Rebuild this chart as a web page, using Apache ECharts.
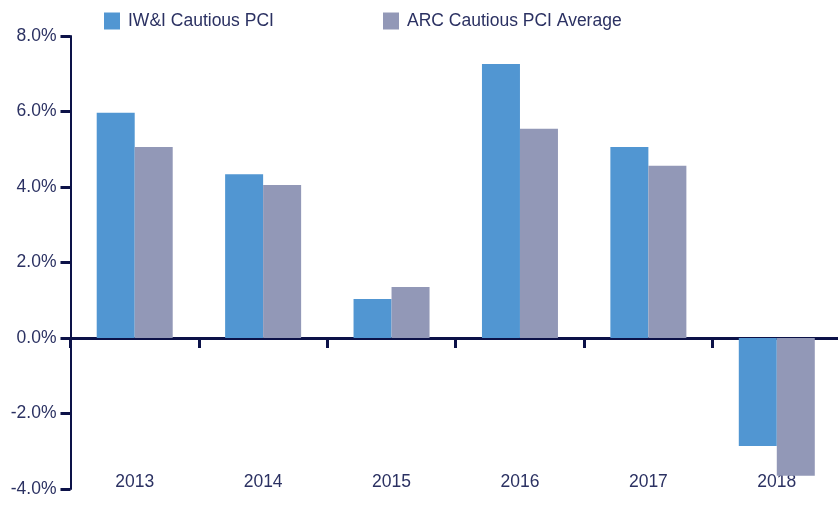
<!DOCTYPE html>
<html>
<head>
<meta charset="utf-8">
<script src="https://cdn.jsdelivr.net/npm/echarts@6/dist/echarts.min.js"></script>
<style>html,body{margin:0;padding:0;background:#fff;overflow:hidden}#c{width:842px;height:515px}</style>
</head>
<body>
<div id="c"></div>
<script>
var categories = ['2013', '2014', '2015', '2016', '2017', '2018'];
var iwiValues = [5.97, 4.34, 1.03, 7.26, 5.06, -2.86];
var arcValues = [5.06, 4.05, 1.35, 5.54, 4.56, -3.65];
var seriesNames = ['IW&I Cautious PCI', 'ARC Cautious PCI Average'];
var yTicks = { min: -4, max: 8, interval: 2 };

var axisColor = '#0c1248';
var textColor = '#2b3162';
var font = 'Liberation Sans, Arial, sans-serif';
var fs = 17.5;

var chart = echarts.init(document.getElementById('c'));
chart.setOption({
  animation: false,
  legend: [
    { data: [seriesNames[0]], left: 104, top: 12, padding: 0, itemWidth: 16, itemHeight: 17, icon: 'rect',
      textStyle: { color: textColor, fontSize: fs, fontFamily: font, padding: [0, 0, 0, 3] } },
    { data: [seriesNames[1]], left: 383, top: 12, padding: 0, itemWidth: 16, itemHeight: 17, icon: 'rect',
      textStyle: { color: textColor, fontSize: fs, fontFamily: font, padding: [0, 0, 0, 3] } }
  ],
  grid: { left: 70.5, top: 36, width: 770.5, height: 453, containLabel: false },
  xAxis: [
    {
      type: 'category', data: categories, boundaryGap: true,
      axisLine: { onZero: true, lineStyle: { color: axisColor, width: 3 } },
      axisTick: { show: true, length: 10, lineStyle: { color: axisColor, width: 3 } },
      axisLabel: { show: false },
      splitLine: { show: false }
    },
    {
      type: 'category', data: categories, position: 'bottom', boundaryGap: true,
      axisLine: { show: false, onZero: false }, axisTick: { show: false },
      axisLabel: { color: textColor, fontSize: fs, fontFamily: font, margin: -16 },
      splitLine: { show: false }
    }
  ],
  yAxis: {
    type: 'value', min: yTicks.min, max: yTicks.max, interval: yTicks.interval,
    axisLine: { show: true, lineStyle: { color: axisColor, width: 2 } },
    axisTick: { show: true, length: 10, lineStyle: { color: axisColor, width: 3 } },
    axisLabel: { color: textColor, fontSize: fs, fontFamily: font, margin: 14,
      formatter: function (v) { return v.toFixed(1) + '%'; } },
    splitLine: { show: false }
  },
  series: [
    { name: seriesNames[0], type: 'bar', data: iwiValues, barWidth: 38, barGap: '0%',
      itemStyle: { color: '#5196d2' }, z: 1 },
    { name: seriesNames[1], type: 'bar', data: arcValues, barWidth: 38, barGap: '0%',
      itemStyle: { color: '#9298b7' }, z: 1 }
  ]
});
</script>
</body>
</html>
